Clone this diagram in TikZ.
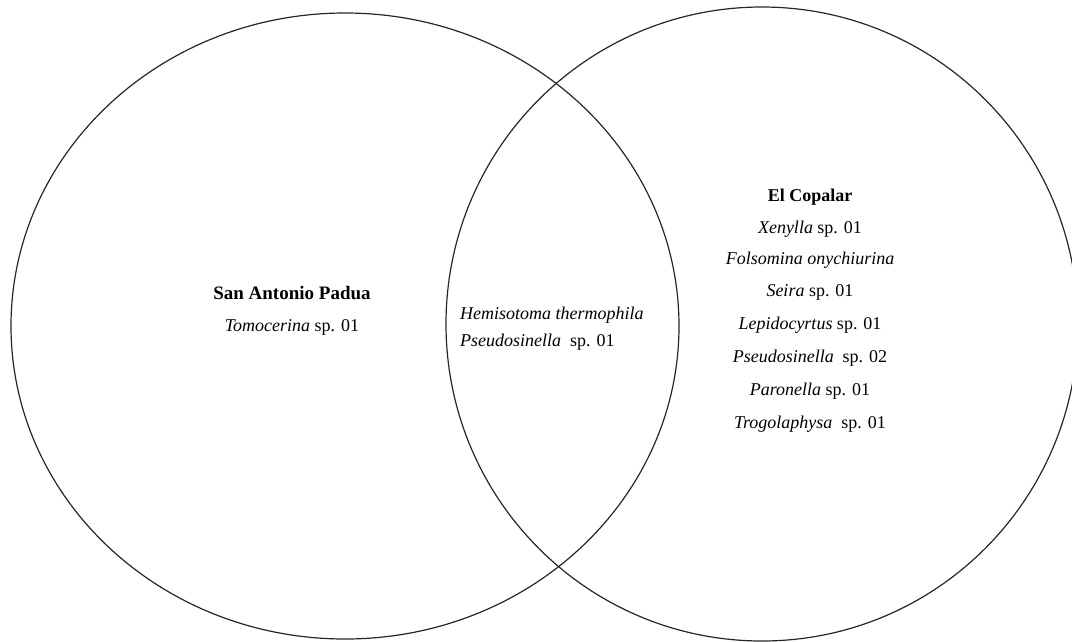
\documentclass[tikz,border=0pt]{standalone}
\usepackage{fontspec}
\setmainfont{Liberation Serif}
\begin{document}
\begin{tikzpicture}[x=1pt,y=-1pt,
  venn/.style={draw=black!85,line width=1.2pt},
  lbl/.style={font=\fontsize{18}{20}\selectfont,inner sep=0pt,anchor=base},
  lblw/.style={font=\fontsize{18}{20}\selectfont,inner sep=0pt,anchor=base west}]
\useasboundingbox (0,0) rectangle (1072,641);
\begin{scope}
\clip (0,0) rectangle (1072,641);
\draw[venn] (345,326) ellipse [x radius=334, y radius=313];
\draw[venn] (762,324) ellipse [x radius=316, y radius=317];
\end{scope}
% left
\node[lbl] (sap) at (292,299) {\fontsize{19}{20}\selectfont\textbf{San Antonio Padua}};
\node[lbl] (tom) at (292,331) {\textit{Tomocerina} sp. 01};
% middle
\node[lblw] (hem) at (460,319) {\textit{Hemisotoma thermophila}};
\node[lblw] (pse1) at (460,346) {\textit{Pseudosinella}\ \ sp. 01};
% right
\node[lbl] (elc) at (810,201) {\textbf{El Copalar}};
\node[lbl] (xen) at (810,233) {\textit{Xenylla} sp. 01};
\node[lbl] (fol) at (810,264) {\textit{Folsomina onychiurina}};
\node[lbl] (sei) at (810,296) {\textit{Seira} sp. 01};
\node[lbl] (lep) at (810,329) {\textit{Lepidocyrtus} sp. 01};
\node[lbl] (pse2) at (810,362) {\textit{Pseudosinella}\ \ sp. 02};
\node[lbl] (par) at (810,395) {\textit{Paronella} sp. 01};
\node[lbl] (tro) at (810,428) {\textit{Trogolaphysa}\ \ sp. 01};
\end{tikzpicture}
\end{document}
